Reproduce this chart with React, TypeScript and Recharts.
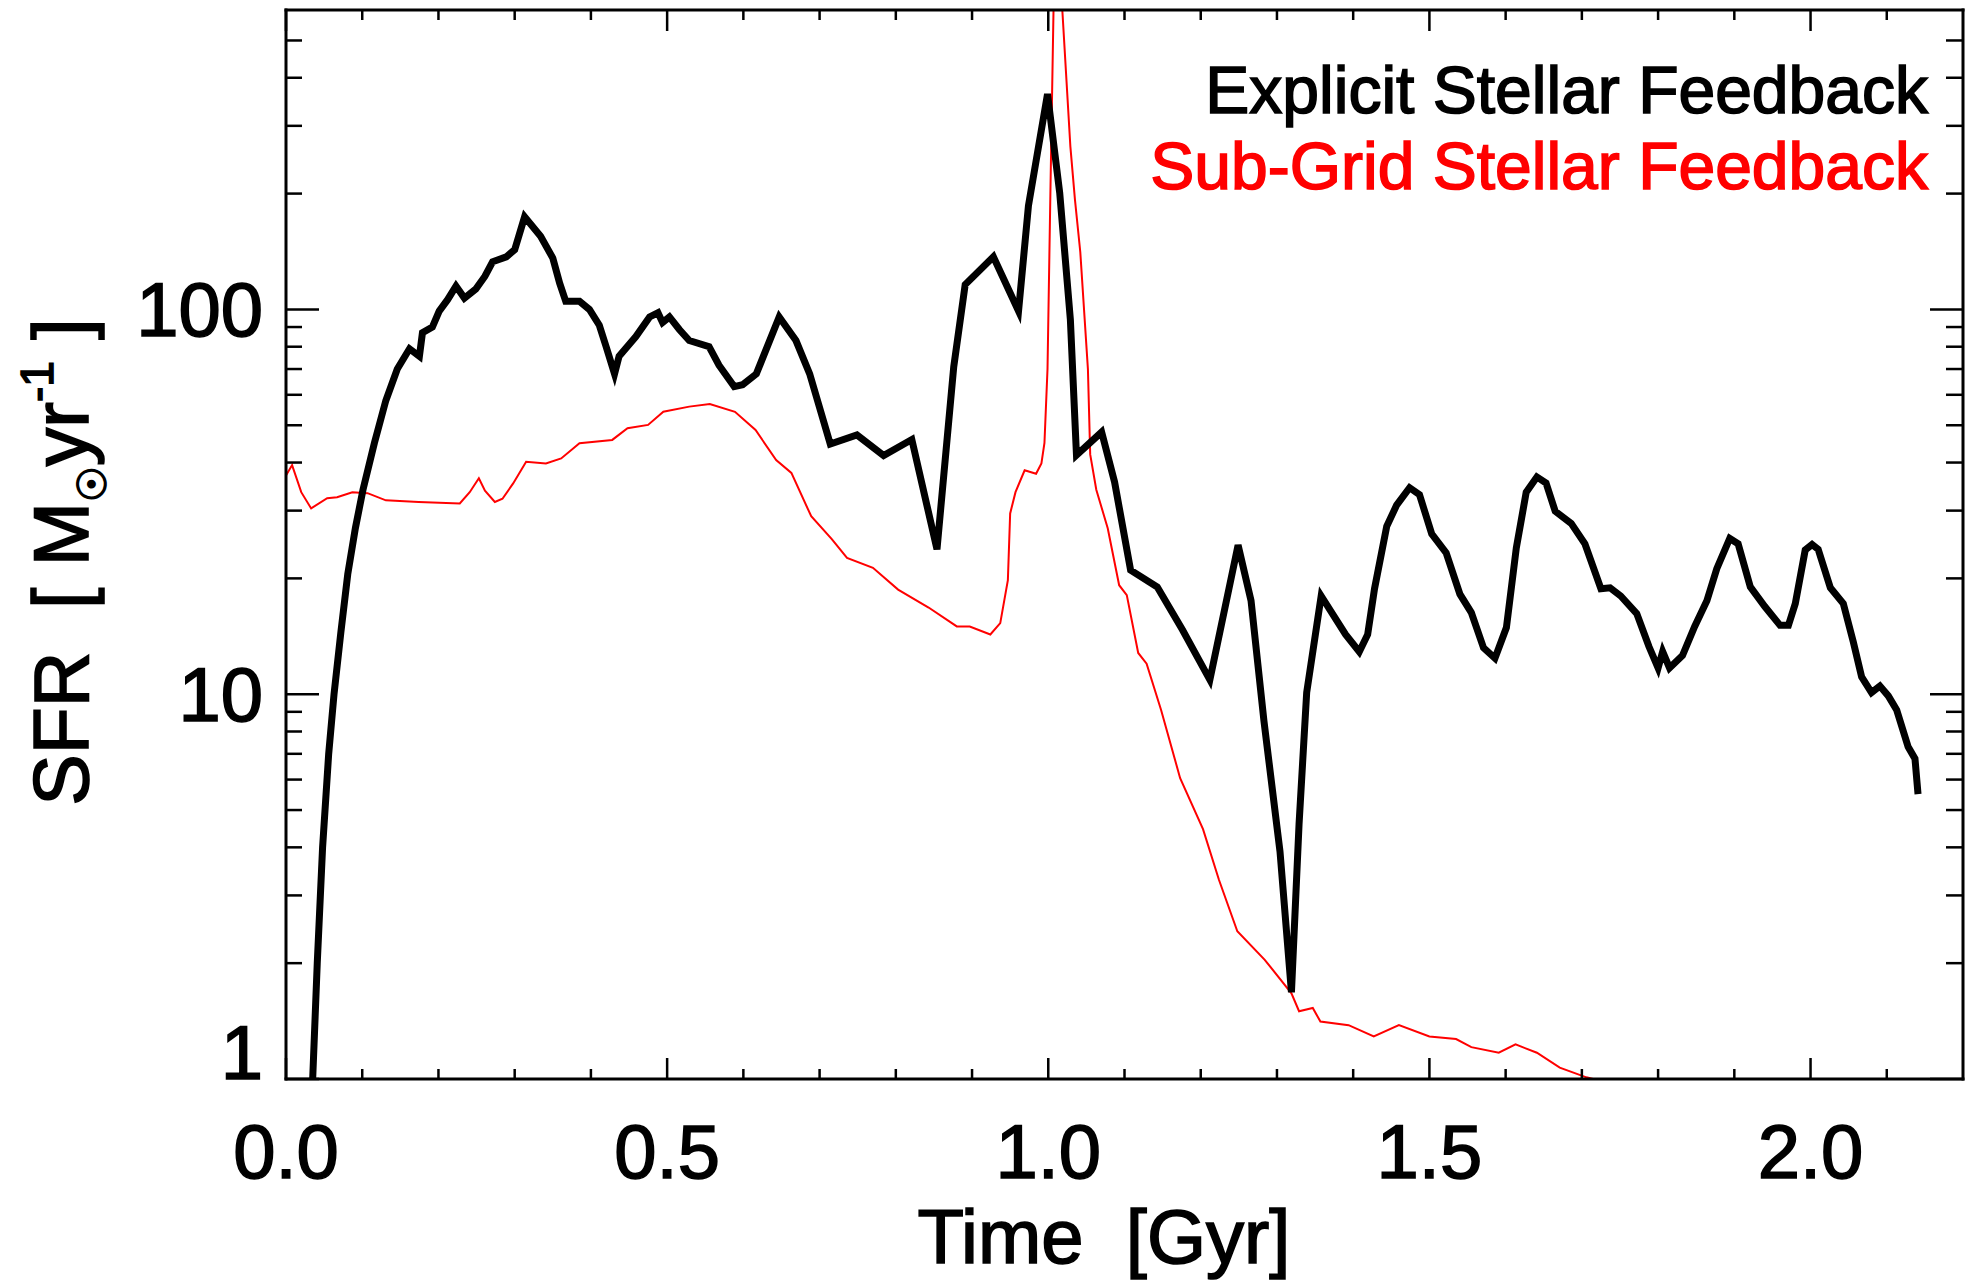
import React from 'react';
import { LineChart, Line, XAxis, YAxis } from 'recharts';

// Star formation rate histories (time in Gyr, SFR in Msun/yr)
const explicitTime = [
  0.033, 0.035, 0.041, 0.048, 0.056, 0.063, 0.072, 0.081, 0.091, 0.101,
  0.116, 0.131, 0.146, 0.162, 0.175, 0.179, 0.192, 0.201, 0.212, 0.223,
  0.234, 0.249, 0.261, 0.271, 0.289, 0.300, 0.313, 0.334, 0.350, 0.359,
  0.367, 0.385, 0.398, 0.411, 0.420, 0.431, 0.437, 0.459, 0.477, 0.488,
  0.494, 0.503, 0.516, 0.529, 0.555, 0.568, 0.588, 0.599, 0.617, 0.647,
  0.669, 0.687, 0.714, 0.749, 0.784, 0.821, 0.854, 0.876, 0.891, 0.928,
  0.961, 0.974, 0.999, 1.015, 1.029, 1.037, 1.070, 1.087, 1.108, 1.143,
  1.176, 1.212, 1.249, 1.266, 1.283, 1.304, 1.319, 1.329, 1.339, 1.358,
  1.390, 1.408, 1.419, 1.428, 1.444, 1.457, 1.474, 1.487, 1.503, 1.522,
  1.540, 1.555, 1.571, 1.586, 1.601, 1.614, 1.627, 1.641, 1.653, 1.665,
  1.686, 1.704, 1.725, 1.737, 1.751, 1.772, 1.788, 1.800, 1.806, 1.815,
  1.832, 1.848, 1.864, 1.877, 1.894, 1.905, 1.921, 1.940, 1.960, 1.971,
  1.980, 1.993, 2.002, 2.010, 2.026, 2.043, 2.056, 2.067, 2.080, 2.091,
  2.102, 2.113, 2.128, 2.137, 2.141,
];
const explicitSfr = [
  0.8, 1.0, 2.0, 4.0, 7.0, 10, 14.5, 20.5, 27, 34,
  45, 58, 70, 79, 75.5, 87, 90, 99, 106, 115,
  107, 113, 122, 133, 137, 143, 174, 155, 136, 117,
  105, 105, 100, 91, 80, 68, 75.6, 85, 95.6, 98,
  92.5, 95.6, 88.7, 83, 80, 71.6, 63, 63.7, 68, 95.6,
  83, 68, 44.7, 47.2, 41.7, 45.9, 23.8, 71, 116, 137,
  99, 186, 363, 201, 94, 41.8, 48, 35.6, 21, 19,
  14.7, 10.9, 24.4, 17.5, 8.5, 3.9, 1.68, 4.6, 10.1, 18,
  14.3, 12.9, 14.3, 18.8, 27.3, 31, 34.4, 33, 26.1, 23.3,
  18.2, 16.3, 13.2, 12.4, 14.9, 24, 33.5, 36.7, 35.4, 29.9,
  27.8, 24.6, 18.8, 18.9, 18, 16.2, 13.3, 11.7, 12.9, 11.7,
  12.6, 15, 17.5, 21.2, 25.4, 24.6, 19, 16.9, 15.1, 15.1,
  17.2, 23.7, 24.5, 23.8, 18.9, 17.2, 13.7, 11.1, 10.1, 10.5,
  9.9, 9.1, 7.3, 6.8, 5.5,
];

const subgridTime = [
  0.000, 0.008, 0.020, 0.033, 0.054, 0.067, 0.087, 0.107, 0.131, 0.174,
  0.228, 0.241, 0.253, 0.261, 0.274, 0.284, 0.298, 0.315, 0.341, 0.361,
  0.385, 0.428, 0.448, 0.475, 0.495, 0.529, 0.556, 0.589, 0.616, 0.643,
  0.663, 0.689, 0.716, 0.736, 0.770, 0.803, 0.843, 0.880, 0.897, 0.924,
  0.937, 0.947, 0.950, 0.957, 0.969, 0.984, 0.991, 0.995, 0.999, 1.003,
  1.007, 1.0125, 1.018, 1.029, 1.035, 1.042, 1.052, 1.055, 1.063, 1.078,
  1.093, 1.103, 1.118, 1.129, 1.148, 1.173, 1.203, 1.224, 1.248, 1.284,
  1.319, 1.329, 1.347, 1.357, 1.394, 1.427, 1.460, 1.500, 1.535, 1.555,
  1.591, 1.613, 1.641, 1.671, 1.706, 1.741,
];
const subgridSfr = [
  37, 39.4, 33.5, 30.4, 32.3, 32.5, 33.5, 33.3, 31.9, 31.6,
  31.3, 33.5, 36.4, 33.8, 31.6, 32.2, 35.3, 40.2, 39.8, 41,
  44.9, 45.8, 49.1, 50.1, 54.2, 55.9, 56.8, 54.2, 48.6, 40.6,
  37.6, 29, 25.3, 22.6, 21.3, 18.7, 16.8, 15.0, 15.0, 14.3,
  15.3, 19.8, 29.5, 33.5, 38.2, 37.4, 39.8, 45, 70, 213,
  620, 1600, 620, 265, 193, 141, 70, 42, 34, 27,
  19.2, 18.1, 12.8, 12, 9.1, 6.05, 4.46, 3.29, 2.42, 2.04,
  1.67, 1.5, 1.53, 1.41, 1.38, 1.29, 1.38, 1.29, 1.27, 1.21,
  1.17, 1.23, 1.17, 1.07, 1.01, 0.97,
];

const X_MAJOR_TICKS = [0, 0.5, 1.0, 1.5, 2.0];
const X_MINOR_TICKS = [
  0.1, 0.2, 0.3, 0.4, 0.6, 0.7, 0.8, 0.9, 1.1, 1.2, 1.3, 1.4, 1.6, 1.7, 1.8, 1.9, 2.1,
];
const Y_MAJOR_TICKS = [1, 10, 100];
const Y_MINOR_TICKS = [2, 3, 4, 5, 6, 7, 8, 9, 20, 30, 40, 50, 60, 70, 80, 90, 200, 300, 400, 500];

const X_DOMAIN: [number, number] = [0, 2.2];
const Y_DOMAIN: [number, number] = [1, 600];

const SERIES_NAMES = ['Explicit Stellar Feedback', 'Sub-Grid Stellar Feedback'];
const X_TITLE = 'Time  [Gyr]';

const explicitData = explicitTime.map((t, i) => ({ t, sfr: explicitSfr[i] }));
const subgridData = subgridTime.map((t, i) => ({ t, sfr: subgridSfr[i] }));

const xTicks = [...X_MAJOR_TICKS, ...X_MINOR_TICKS].sort((a, b) => a - b);
const yTicks = [...Y_MAJOR_TICKS, ...Y_MINOR_TICKS].sort((a, b) => a - b);

const FONT = '"Liberation Sans", Arial, Helvetica, sans-serif';
const TICK_FONT_SIZE = 76;
const TICK_STROKE = 2.5;
// a thin outline gives the glyphs the heavier weight of the plot's lettering
const TEXT_WEIGHT = 1.6;

const BottomTick = (props: any) => {
  const { x, y, payload } = props;
  const v = payload.value;
  const major = X_MAJOR_TICKS.includes(v);
  return (
    <g>
      <line x1={x} x2={x} y1={y} y2={y - (major ? 21 : 10)} stroke="#000" strokeWidth={TICK_STROKE} />
      {major && (
        <text
          x={x}
          y={y + 99}
          textAnchor="middle"
          fontSize={TICK_FONT_SIZE}
          fontFamily={FONT}
          fill="#000"
          stroke="#000"
          strokeWidth={TEXT_WEIGHT}
        >
          {v.toFixed(1)}
        </text>
      )}
    </g>
  );
};

const TopTick = (props: any) => {
  const { x, y, payload } = props;
  const major = X_MAJOR_TICKS.includes(payload.value);
  return <line x1={x} x2={x} y1={y} y2={y + (major ? 21 : 10)} stroke="#000" strokeWidth={TICK_STROKE} />;
};

const LeftTick = (props: any) => {
  const { x, y, payload } = props;
  const v = payload.value;
  const major = Y_MAJOR_TICKS.includes(v);
  return (
    <g>
      <line x1={x} x2={x + (major ? 33 : 16)} y1={y} y2={y} stroke="#000" strokeWidth={TICK_STROKE} />
      {major && (
        <text
          x={x - 23}
          y={v === Y_DOMAIN[0] ? y : y + 27}
          textAnchor="end"
          fontSize={TICK_FONT_SIZE}
          fontFamily={FONT}
          fill="#000"
          stroke="#000"
          strokeWidth={TEXT_WEIGHT}
        >
          {String(v)}
        </text>
      )}
    </g>
  );
};

const RightTick = (props: any) => {
  const { x, y, payload } = props;
  const major = Y_MAJOR_TICKS.includes(payload.value);
  return <line x1={x} x2={x - (major ? 33 : 17)} y1={y} y2={y} stroke="#000" strokeWidth={TICK_STROKE} />;
};

const axisLine = { stroke: '#000', strokeWidth: 3, strokeLinecap: 'square' as const };

export default function App() {
  return (
    <div style={{ position: 'absolute', left: 0, top: 0, width: 1967, height: 1281, background: '#fff' }}>
      <LineChart width={1967} height={1281} margin={{ top: 0, right: 0, bottom: 22, left: 0 }}>
        <XAxis
          xAxisId="bottom"
          type="number"
          dataKey="t"
          domain={X_DOMAIN}
          allowDataOverflow
          ticks={xTicks}
          interval={0}
          height={180}
          tickLine={false}
          tickSize={0}
          tickMargin={0}
          axisLine={axisLine}
          tick={BottomTick}
        />
        <XAxis
          xAxisId="top"
          orientation="top"
          type="number"
          dataKey="t"
          domain={X_DOMAIN}
          allowDataOverflow
          ticks={xTicks}
          interval={0}
          height={10}
          tickLine={false}
          tickSize={0}
          tickMargin={0}
          axisLine={axisLine}
          tick={TopTick}
        />
        <YAxis
          yAxisId="left"
          type="number"
          scale="log"
          domain={Y_DOMAIN}
          allowDataOverflow
          ticks={yTicks}
          interval={0}
          width={286}
          tickLine={false}
          tickSize={0}
          tickMargin={0}
          axisLine={axisLine}
          tick={LeftTick}
        />
        <YAxis
          yAxisId="right"
          orientation="right"
          type="number"
          scale="log"
          domain={Y_DOMAIN}
          allowDataOverflow
          ticks={yTicks}
          interval={0}
          width={4}
          tickLine={false}
          tickSize={0}
          tickMargin={0}
          axisLine={axisLine}
          tick={RightTick}
        />
        <Line
          xAxisId="bottom"
          yAxisId="left"
          data={subgridData}
          dataKey="sfr"
          type="linear"
          stroke="#ff0000"
          strokeWidth={2}
          dot={false}
          activeDot={false}
          isAnimationActive={false}
        />
        <Line
          xAxisId="bottom"
          yAxisId="left"
          data={explicitData}
          dataKey="sfr"
          type="linear"
          stroke="#000000"
          strokeWidth={7}
          dot={false}
          activeDot={false}
          isAnimationActive={false}
        />
      </LineChart>
      <svg
        width={1967}
        height={1281}
        style={{ position: 'absolute', left: 0, top: 0, pointerEvents: 'none' }}
        fontFamily={FONT}
      >
        <text x={1928} y={113} textAnchor="end" fontSize={66} fill="#000" stroke="#000" strokeWidth={TEXT_WEIGHT}>
          {SERIES_NAMES[0]}
        </text>
        <text
          x={1928}
          y={189}
          textAnchor="end"
          fontSize={66}
          fill="#ff0000"
          stroke="#ff0000"
          strokeWidth={TEXT_WEIGHT}
        >
          {SERIES_NAMES[1]}
        </text>
        <text
          x={1104}
          y={1263}
          textAnchor="middle"
          fontSize={76}
          fill="#000"
          stroke="#000"
          strokeWidth={TEXT_WEIGHT}
          style={{ whiteSpace: 'pre' }}
        >
          {X_TITLE}
        </text>
        <text
          transform="translate(88 562) rotate(-90)"
          textAnchor="middle"
          fontSize={77}
          fill="#000"
          stroke="#000"
          strokeWidth={TEXT_WEIGHT}
          style={{ whiteSpace: 'pre' }}
        >
          <tspan>{'SFR  [ M'}</tspan>
          <tspan fontFamily='"DejaVu Sans", sans-serif' fontSize={40} dy={18}>
            {'☉'}
          </tspan>
          <tspan dy={-18}>{'yr'}</tspan>
          <tspan fontSize={46} dy={-35}>
            {'-1'}
          </tspan>
          <tspan dy={35}>{' ]'}</tspan>
        </text>
      </svg>
    </div>
  );
}
